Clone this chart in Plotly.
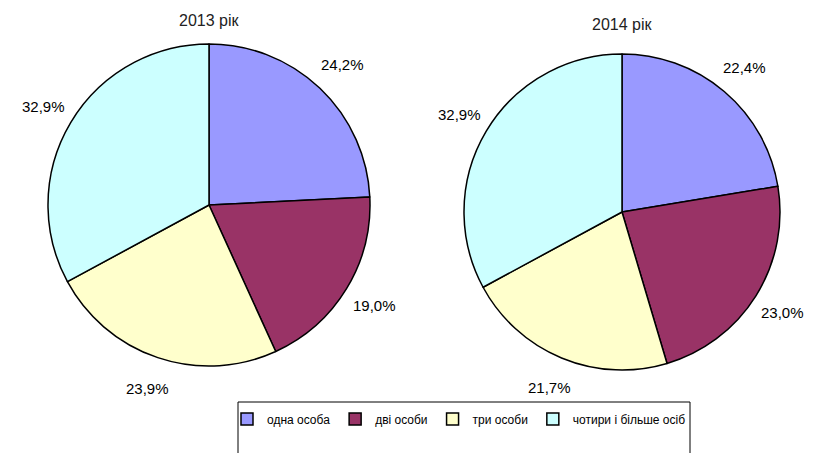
import math
import plotly.graph_objects as go

categories = ["одна особа", "дві особи", "три особи", "чотири і більше осіб"]
values_2013 = [24.2, 19.0, 23.9, 32.9]
values_2014 = [22.4, 23.0, 21.7, 32.9]
titles = ["2013 рік", "2014 рік"]
colors = ["#9999FF", "#993366", "#FFFFCC", "#CCFFFF"]

W, H = 830, 453
FONT = "Liberation Sans, Arial, sans-serif"

# pie boxes in pixels: (left, top, size) and title rows
boxes = [(40, 36, 322), (456, 46, 316)]
title_rows = [12, 17]

def paper_dom(b):
    l, t, s = b
    return dict(x=[l / W, (l + s) / W], y=[1 - (t + s) / H, 1 - t / H])

fig = go.Figure()
for i, (vals, b) in enumerate(zip([values_2013, values_2014], boxes)):
    fig.add_trace(go.Pie(
        labels=categories, values=vals, sort=False, direction="clockwise", rotation=0,
        marker=dict(colors=colors, line=dict(color="black", width=1.5)),
        textinfo="none", domain=paper_dom(b), showlegend=(i == 0),
        hoverinfo="label+value",
    ))
    l, t, s = b
    cx, cy, r = l + s / 2, t + s / 2, s / 2
    # percentage labels placed outside, along each slice's mid-angle
    total = sum(vals)
    cum = 0
    for v in vals:
        mid = (cum + v / 2) / total * 2 * math.pi
        cum += v
        d = r * 1.2
        px = cx + d * math.sin(mid)
        py = cy - d * math.cos(mid)
        fig.add_annotation(text=f"{v:.1f}%".replace(".", ","), x=px / W, y=1 - py / H,
                           xref="paper", yref="paper", showarrow=False,
                           xanchor="center", yanchor="middle",
                           font=dict(family=FONT, size=15, color="black"))
    fig.add_annotation(text=titles[i], x=cx / W, y=1 - title_rows[i] / H, xref="paper", yref="paper",
                       showarrow=False, xanchor="center", yanchor="middle",
                       font=dict(family=FONT, size=16, color="#222"))

fig.add_shape(type="rect", xref="paper", yref="paper", x0=230 / W, x1=682 / W,
              y0=-0.1, y1=1 - 394 / H, line=dict(color="black", width=1))

fig.update_layout(
    width=W, height=H, margin=dict(l=0, r=0, t=0, b=0),
    paper_bgcolor="white", plot_bgcolor="white",
    separators=", ",
    font=dict(family=FONT, size=12, color="black"),
    legend=dict(orientation="h", x=451 / W, xanchor="center", y=1 - 411 / H, yanchor="middle",
                bgcolor="rgba(0,0,0,0)", font=dict(family=FONT, size=12, color="black"),
                itemwidth=30, traceorder="normal"),
)

fig.write_html("out.html")
